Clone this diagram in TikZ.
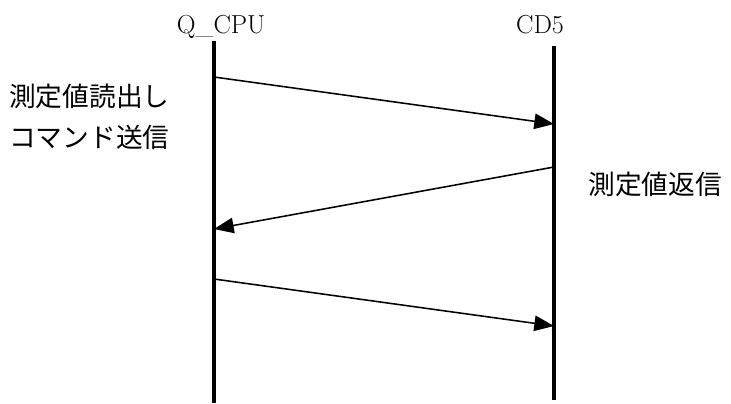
\documentclass[tikz,border=0pt]{standalone}
\usepackage{fontspec}
\newfontfamily\jpfont{Noto Sans CJK JP}
\usetikzlibrary{arrows.meta}
\tikzset{
  lifeline/.style={line width=2.8pt},
  msg/.style={line width=1.1pt,-{Triangle[length=14pt,width=11pt]}},
  jplabel/.style={anchor=west,inner sep=0pt,font=\jpfont\fontsize{19}{21}\selectfont},
  head/.style={anchor=base,inner sep=0pt,font=\fontsize{18.5}{20}\selectfont}
}
\begin{document}
\begin{tikzpicture}[x=0.025cm,y=-0.025cm]
  \useasboundingbox (0,0) rectangle (731,403);
  % lifelines
  \coordinate (cpuTop) at (214,41);
  \coordinate (cpuBot) at (214,403);
  \coordinate (cdTop) at (554,46);
  \coordinate (cdBot) at (554,400);
  \node[head] (cpu) at (221,33) {Q\_CPU};
  \node[head] (cd) at (540,33) {CD5};
  \draw[lifeline] (cpuTop) -- (cpuBot);
  \draw[lifeline] (cdTop) -- (cdBot);
  % messages
  \coordinate (reqA) at (214,77);  \coordinate (reqB) at (554,124);
  \coordinate (ansA) at (554,167); \coordinate (ansB) at (214,229);
  \coordinate (ackA) at (214,279); \coordinate (ackB) at (554,326);
  \draw[msg] (reqA) -- (reqB);
  \draw[msg] (ansA) -- (ansB);
  \draw[msg] (ackA) -- (ackB);
  \node[jplabel] (reqText) at (9,96) {測定値読出し};
  \node[jplabel] (cmdText) at (9,137) {コマンド送信};
  \node[jplabel] (ansText) at (588,184) {測定値返信};
\end{tikzpicture}
\end{document}
